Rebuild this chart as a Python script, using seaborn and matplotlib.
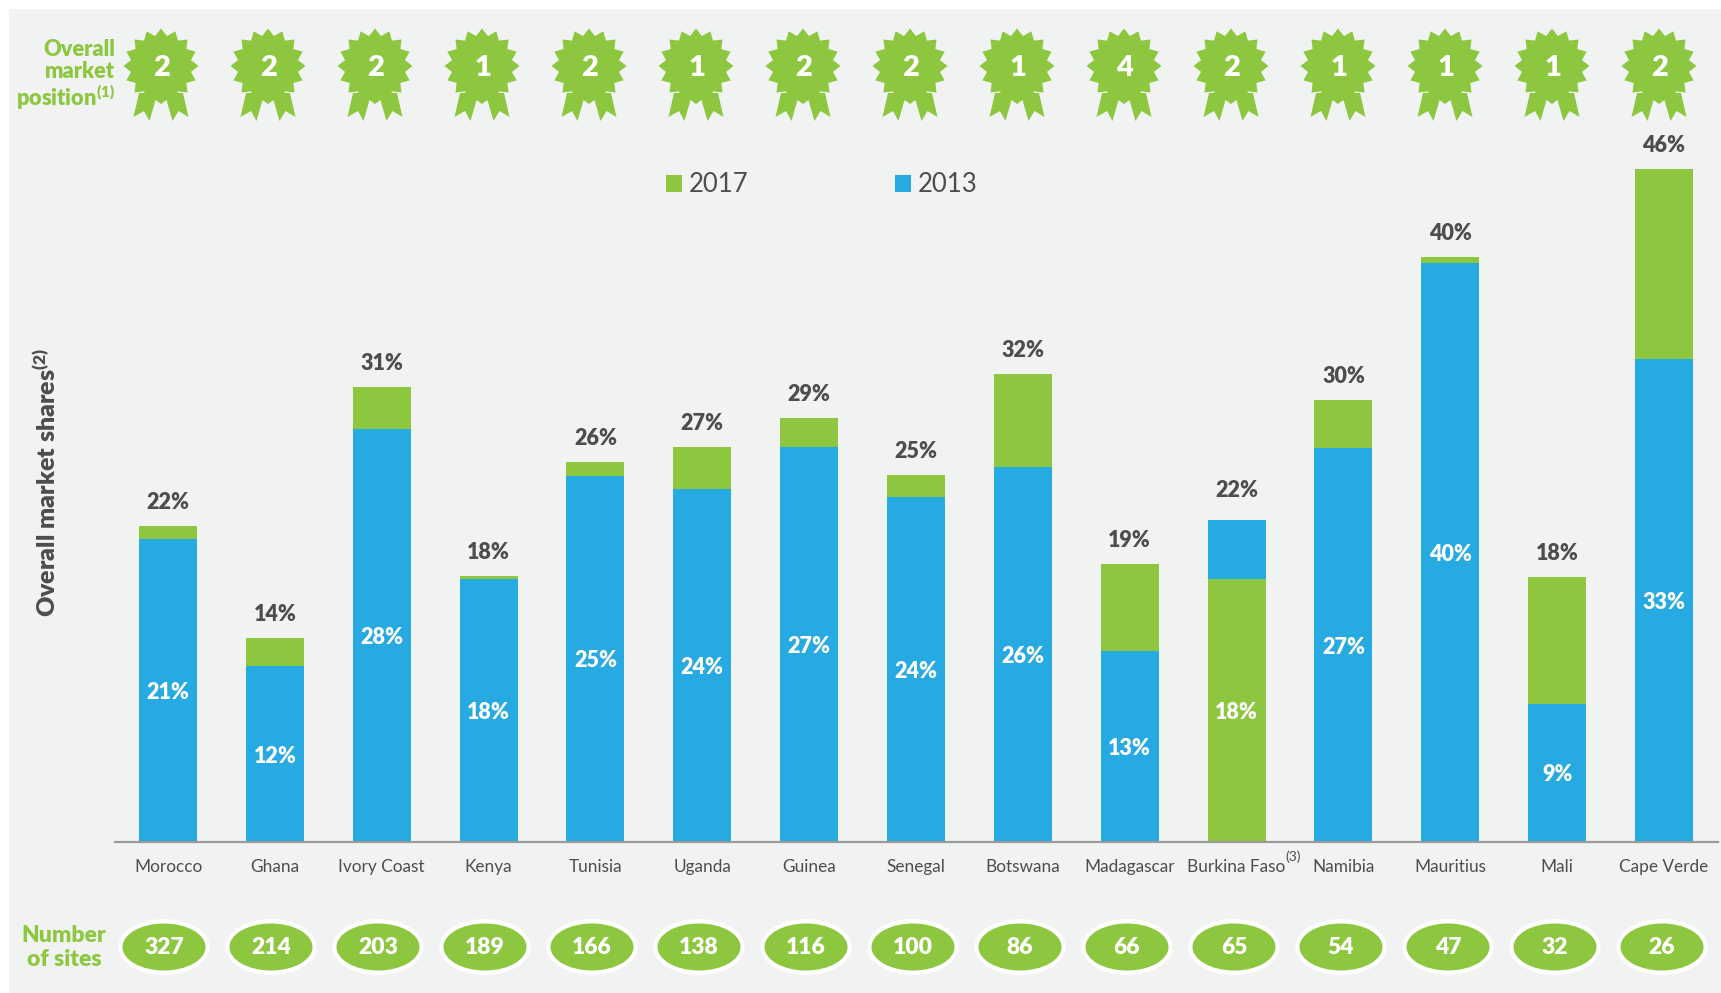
import numpy as np
import pandas as pd
import matplotlib
matplotlib.use("Agg")
import matplotlib.pyplot as plt
from matplotlib.patches import Polygon, Ellipse, Rectangle
import seaborn as sns

countries = ['Morocco', 'Ghana', 'Ivory Coast', 'Kenya', 'Tunisia', 'Uganda', 'Guinea', 'Senegal',
             'Botswana', 'Madagascar', 'Burkina Faso', 'Namibia', 'Mauritius', 'Mali', 'Cape Verde']
share_2017 = [21.6, 13.95, 31.1, 18.2, 26.0, 27.0, 29.0, 25.1, 32.0, 19.0, 18.0, 30.2, 40.0, 18.1, 46.0]
share_2013 = [20.7, 12.0, 28.2, 18.0, 25.05, 24.1, 27.0, 23.6, 25.65, 13.05, 22.0, 26.9, 39.6, 9.45, 33.0]
positions = [2, 2, 2, 1, 2, 1, 2, 2, 1, 4, 2, 1, 1, 1, 2]
sites = [327, 214, 203, 189, 166, 138, 116, 100, 86, 66, 65, 54, 47, 32, 26]

GREEN = '#8DC63F'
BLUE = '#27A9E1'
PANEL = '#F1F3F3'
DARK = '#4D4D4F'
BOLD = 'heavy'
W, H = 1721, 993

sns.set_theme(style='white')
plt.rcParams['font.family'] = ['Lato', 'DejaVu Sans']
plt.rcParams['mathtext.default'] = 'regular'

df = pd.DataFrame({'country': countries, 'y2017': share_2017, 'y2013': share_2013})
# where 2017 is lower than 2013 the green bar goes in front
df['front2017'] = df['y2017'].where(df['y2017'] < df['y2013'])

fig = plt.figure(figsize=(W / 100, H / 100), dpi=100, facecolor='white')
fig.patches.append(Rectangle((9 / W, 0), 1 - 9 / W, 1 - 9 / H, transform=fig.transFigure,
                             facecolor=PANEL, edgecolor='none', zorder=-1))

# axes box in pixels
left, right, top, base = 115, 1718, 130, 842
ax = fig.add_axes([left / W, 1 - base / H, (right - left) / W, (base - top) / H], facecolor='none')

width = 58 / 106.86
sns.barplot(data=df, x='country', y='y2017', order=countries, color=GREEN, saturation=1, linewidth=0,
            width=width, errorbar=None, ax=ax, label='2017', zorder=2)
sns.barplot(data=df, x='country', y='y2013', order=countries, color=BLUE, saturation=1, linewidth=0,
            width=width, errorbar=None, ax=ax, label='2013', zorder=3)
sns.barplot(data=df, x='country', y='front2017', order=countries, color=GREEN, saturation=1, linewidth=0,
            width=width, errorbar=None, ax=ax, zorder=4)

ax.set_xlim((left - 168) / 106.86, (right - 168) / 106.86)
ax.set_ylim(0, (base - top) / (673 / 46))
ax.set_xlabel('')
ax.set_ylabel('')
ax.set_yticks([])
sns.despine(ax=ax, left=True)
ax.spines['bottom'].set_color('#9A9A9A')
ax.spines['bottom'].set_linewidth(1.6)
ax.spines['bottom'].set_zorder(6)
ax.tick_params(axis='x', length=0, pad=12, labelsize=12.4, labelcolor=DARK)

for i in range(len(countries)):
    hi = max(share_2017[i], share_2013[i])
    lo = min(share_2017[i], share_2013[i])
    lift = 21.5 if share_2013[i] > share_2017[i] else 16.8
    ax.annotate(f'{round(hi)}%', (i, hi), xytext=(0, lift), textcoords='offset points', ha='center', va='center',
                fontsize=15.5, fontweight=BOLD, color=DARK, annotation_clip=False)
    ax.annotate(f'{round(lo)}%', (i, lo / 2), xytext=(0, -1.5), textcoords='offset points', ha='center', va='center',
                fontsize=15.5, fontweight=BOLD, color='white', zorder=7)

handles, labels = ax.get_legend_handles_labels()
ax.legend(handles[:2], labels[:2], ncol=2, frameon=False, loc='center left',
          bbox_to_anchor=((666 - left) / (right - left), (base - 185) / (base - top)),
          fontsize=18.5, handlelength=0.62, handleheight=0.62, handletextpad=0.27, columnspacing=5.7,
          labelcolor=DARK, borderpad=0, borderaxespad=0)

# overlay in pixel coordinates for the rosettes, ovals and side captions
ov = fig.add_axes([0, 0, 1, 1], facecolor='none')
ov.set_xlim(0, W)
ov.set_ylim(H, 0)
ov.axis('off')


def rosette(cx, cy):
    ang = np.deg2rad(np.arange(0, 360, 11.25))
    rad = np.where(np.arange(32) % 2 == 0, 37.5, 30.5)
    star = np.column_stack([cx + rad * np.cos(ang), cy + rad * np.sin(ang)])
    ribbon = np.array([[-22, 27], [-27.5, 51], [-17, 45], [-11.5, 55], [-5.5, 34], [0, 38],
                       [5.5, 34], [11.5, 55], [17.5, 45], [27.5, 51], [22, 27]])
    ov.add_patch(Polygon(ribbon + [cx, cy], facecolor=GREEN, edgecolor='none'))
    ov.add_patch(Polygon(star, facecolor=GREEN, edgecolor='none'))


for i in range(len(countries)):
    cx = 161 + i * 107
    rosette(cx, 66)
    ov.text(cx + 1, 68, str(positions[i]), ha='center', va='center', fontsize=21, fontweight=BOLD, color='white')
    ex = 164 + i * 107
    ov.add_patch(Ellipse((ex, 947), 91, 56, facecolor='white', edgecolor='none'))
    ov.add_patch(Ellipse((ex, 947), 83, 47, facecolor=GREEN, edgecolor='none'))
    ov.text(ex, 948, str(sites[i]), ha='center', va='center', fontsize=16.5, fontweight=BOLD, color='white')

ov.text(115, 49, 'Overall', ha='right', va='center', fontsize=15.7, fontweight=BOLD, color=GREEN)
ov.text(115, 72, 'market', ha='right', va='center', fontsize=15.7, fontweight=BOLD, color=GREEN)
ov.text(115, 97, 'position$^{(1)}$', ha='right', va='center', fontsize=15.7, fontweight=BOLD, color=GREEN)
ov.text(64, 935, 'Number', ha='center', va='center', fontsize=16.5, fontweight=BOLD, color=GREEN)
ov.text(64, 959, 'of sites', ha='center', va='center', fontsize=16.5, fontweight=BOLD, color=GREEN)
ov.text(46, 482, 'Overall market shares$^{(2)}$', rotation=90, ha='center', va='center', fontsize=18,
        fontweight=BOLD, color=DARK)
ov.text(1285, 857, '(3)', ha='left', va='center', fontsize=10, color=DARK)

fig.savefig('out.png', dpi=100, facecolor='white')
